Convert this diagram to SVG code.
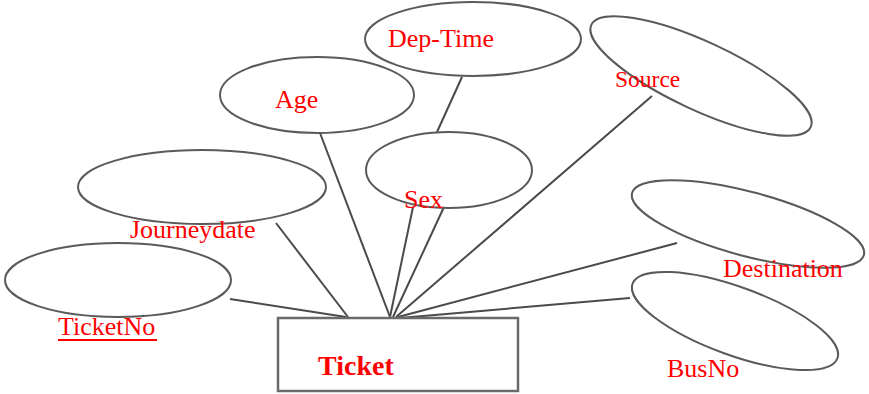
<svg xmlns="http://www.w3.org/2000/svg" width="869" height="394" viewBox="0 0 869 394">
  <style>
    .attr { fill: none; stroke: #5a5a5a; stroke-width: 2; }
    .link { stroke: #4a4a4a; stroke-width: 2; fill: none; }
    .entity { fill: #ffffff; stroke: #6a6a6a; stroke-width: 2.5; }
    .lbl { font-family: "Liberation Serif", "Times New Roman", serif; font-size: 26px; fill: #ff0000; }
  </style>
  <rect width="869" height="394" fill="#ffffff"/>

  <!-- connectors: attributes to the Ticket entity -->
  <g id="connectors">
    <line class="link" x1="230" y1="299" x2="346" y2="317"/>
    <line class="link" x1="276" y1="223" x2="348" y2="317"/>
    <line class="link" x1="320" y1="133" x2="390" y2="317"/>
    <line class="link" x1="462" y1="77" x2="437" y2="132"/>
    <line class="link" x1="413" y1="207" x2="390" y2="317"/>
    <line class="link" x1="444" y1="207" x2="393" y2="317"/>
    <line class="link" x1="652" y1="96" x2="396" y2="317"/>
    <line class="link" x1="677" y1="243" x2="398" y2="317"/>
    <line class="link" x1="630" y1="298" x2="400" y2="318"/>
  </g>

  <g id="dep-time">
    <ellipse class="attr" cx="473" cy="39" rx="108" ry="37"/>
    <text class="lbl" x="388" y="47">Dep-Time</text>
  </g>

  <g id="age">
    <ellipse class="attr" cx="317" cy="95" rx="97" ry="38"/>
    <text class="lbl" x="275" y="108">Age</text>
  </g>

  <g id="source">
    <ellipse class="attr" cx="0" cy="0" rx="121" ry="34" transform="translate(701 76) rotate(25)"/>
    <text class="lbl" x="615" y="87" style="font-size:23.5px">Source</text>
  </g>

  <g id="sex">
    <ellipse class="attr" cx="449" cy="170" rx="83" ry="38"/>
    <text class="lbl" x="404" y="208">Sex</text>
  </g>

  <g id="journeydate">
    <ellipse class="attr" cx="202" cy="187" rx="124" ry="37"/>
    <text class="lbl" x="130" y="238">Journeydate</text>
  </g>

  <g id="destination">
    <ellipse class="attr" cx="0" cy="0" rx="120" ry="32" transform="translate(748 224) rotate(15)"/>
    <text class="lbl" x="723" y="277">Destination</text>
  </g>

  <g id="ticketno">
    <ellipse class="attr" cx="118" cy="280" rx="113" ry="37"/>
    <text class="lbl" x="58" y="335">TicketNo</text>
    <line x1="58" y1="340" x2="157" y2="340" stroke="#ff0000" stroke-width="2"/>
  </g>

  <g id="busno">
    <ellipse class="attr" cx="0" cy="0" rx="109" ry="34" transform="translate(735 321) rotate(20)"/>
    <text class="lbl" x="667" y="377">BusNo</text>
  </g>

  <g id="ticket">
    <rect class="entity" x="278" y="318" width="240" height="73"/>
    <text class="lbl" x="318" y="375" style="font-size:28px;font-weight:bold">Ticket</text>
  </g>
</svg>
